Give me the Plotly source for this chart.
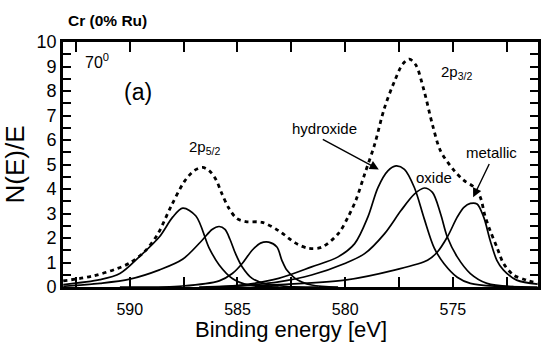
import plotly.graph_objects as go

# ---- data: binding energy [eV] and N(E)/E ----
env_e = [593.09, 591.70, 590.69, 590.00, 589.31, 588.71, 588.08, 587.47, 587.01, 586.62,
         586.32, 586.01, 585.72, 585.39, 585.03, 584.62, 583.86, 583.09, 582.32, 581.71,
         581.10, 580.33, 579.87, 579.50, 579.10, 578.64, 578.18, 577.72, 577.33, 577.02,
         576.72, 576.33, 575.95, 575.57, 574.95, 574.49, 574.03, 573.73, 573.51, 573.27,
         572.96, 572.65, 572.19, 571.58, 571.07]
env_v = [0.25, 0.45, 0.72, 0.98, 1.45, 2.15, 3.30, 4.30, 4.75, 4.88,
         4.75, 4.40, 3.80, 3.20, 2.80, 2.67, 2.64, 2.30, 1.80, 1.58,
         1.62, 2.17, 2.85, 3.55, 4.60, 5.80, 7.30, 8.38, 9.10, 9.30,
         9.06, 7.98, 6.63, 5.55, 4.76, 4.35, 4.08, 3.67, 2.90, 2.30,
         1.63, 0.96, 0.49, 0.28, 0.15]

p12a_e = [593.09, 591.38, 590.46, 589.54, 588.62, 588.01, 587.54, 586.93, 586.32, 585.85,
          585.24, 584.47, 583.09]
p12a_v = [0.10, 0.30, 0.55, 1.25, 2.05, 2.85, 3.22, 2.90, 1.60, 0.90,
          0.35, 0.08, 0.0]

p12b_e = [593.09, 591.38, 590.00, 588.62, 587.55, 586.62, 586.18, 585.85, 585.58, 585.35,
          585.09, 584.78, 584.32, 583.70, 582.63, 581.25]
p12b_v = [0.03, 0.15, 0.32, 0.70, 1.13, 1.93, 2.35, 2.47, 2.35, 1.95,
          1.36, 0.82, 0.35, 0.13, 0.02, 0.0]

p12c_e = [590.46, 587.55, 585.85, 585.24, 584.78, 584.32, 583.93, 583.55, 583.17, 582.94,
          582.71, 582.32, 581.56, 580.33]
p12c_v = [0.0, 0.04, 0.25, 0.55, 0.96, 1.50, 1.79, 1.83, 1.63, 1.09,
          0.69, 0.35, 0.08, 0.0]

hydroxide_e = [586.00, 584.47, 583.09, 581.56, 580.33, 579.56, 578.95, 578.48, 578.02, 577.64,
               577.25, 576.79, 576.33, 575.87, 575.41, 574.80, 574.19, 572.96, 571.07]
hydroxide_v = [0.0, 0.12, 0.35, 0.82, 1.23, 1.77, 2.85, 4.06, 4.74, 4.94,
               4.80, 4.06, 2.78, 1.60, 0.95, 0.40, 0.15, 0.03, 0.0]

oxide_e = [585.50, 583.09, 581.56, 580.02, 579.10, 578.18, 577.41, 576.79, 576.33, 575.95,
           575.57, 575.26, 574.80, 574.19, 573.42, 572.19]
oxide_v = [0.0, 0.21, 0.49, 0.96, 1.36, 2.17, 3.12, 3.79, 4.04, 3.86,
           2.98, 2.04, 1.23, 0.55, 0.15, 0.02]

metallic_e = [586.78, 583.09, 580.02, 577.72, 576.18, 575.72, 575.26, 574.80, 574.49, 574.19,
              573.88, 573.57, 573.27, 572.96, 572.65, 572.04, 571.07]
metallic_v = [0.0, 0.10, 0.28, 0.69, 1.09, 1.43, 2.04, 2.85, 3.25, 3.41,
              3.39, 2.85, 1.90, 1.09, 0.69, 0.28, 0.12]

x_ticks = [590, 585, 580, 575]
y_ticks = list(range(0, 11))

# ---- figure ----
FONT = "Liberation Sans, Arial, Helvetica, sans-serif"
W, H = 544, 343
ML, MR, MT, MB = 63, 3, 42, 56
PW, PH = W - ML - MR, H - MT - MB


def paper(xp, yp):
    return (xp - ML) / PW, (H - MB - yp) / PH


fig = go.Figure()
solid = dict(color="black", width=1.7, shape="spline", smoothing=0.9)
for e, v in [(p12a_e, p12a_v), (p12b_e, p12b_v), (p12c_e, p12c_v),
             (hydroxide_e, hydroxide_v), (oxide_e, oxide_v), (metallic_e, metallic_v)]:
    fig.add_trace(go.Scatter(x=e, y=v, mode="lines", line=solid, hoverinfo="skip"))
fig.add_trace(go.Scatter(x=env_e, y=env_v, mode="lines",
                         line=dict(color="black", width=2.8, dash="4px,4px",
                                   shape="spline", smoothing=0.9),
                         hoverinfo="skip"))

axis_common = dict(showline=True, linecolor="black", linewidth=2.8, mirror="ticks",
                   ticks="inside", tickcolor="black", tickwidth=2, showgrid=False,
                   zeroline=False)

fig.update_xaxes(range=[593.1, 571.05], tickmode="array", tickvals=x_ticks,
                 ticktext=[str(t) for t in x_ticks], ticklen=10, ticklabelstandoff=6,
                 tickfont=dict(size=16, color="black", family=FONT),
                 minor=dict(ticks="inside", dtick=2.5, tick0=590, ticklen=10,
                            tickwidth=2, tickcolor="black", showgrid=False),
                 **axis_common)
fig.update_yaxes(range=[0, 10], tickmode="array", tickvals=y_ticks,
                 ticktext=[str(t) for t in y_ticks], ticklen=8,
                 tickfont=dict(size=18, color="black", family=FONT),
                 minor=dict(ticks="inside", dtick=0.5, tick0=0, ticklen=8,
                            tickwidth=2, tickcolor="black", showgrid=False),
                 title=dict(text="N(E)/E", font=dict(size=26, color="black", family=FONT),
                            standoff=8),
                 **axis_common)

annos = []


def text_anno(txt, xp, yp, size, bold=False, anchor="left"):
    x, y = paper(xp, yp)
    annos.append(dict(text=f"<b>{txt}</b>" if bold else txt, x=x, y=y, xref="paper", yref="paper",
                      xanchor=anchor, yanchor="middle", showarrow=False, borderpad=0,
                      font=dict(size=size, color="black", family=FONT)))


text_anno("Cr (0% Ru)", 67, 20, 15.5, bold=True)
text_anno("Binding energy [eV]", 292, 329, 22, anchor="center")
text_anno("70<sup>0</sup>", 84, 61, 16)
text_anno("(a)", 123, 92, 23)
text_anno("2p<sub>5/2</sub>", 189, 147, 15)
text_anno("2p<sub>3/2</sub>", 442, 73, 15)
text_anno("hydroxide", 292, 128, 15)
text_anno("oxide", 417, 177, 15)
text_anno("metallic", 468, 152, 15)

# arrows (head, tail) in data coordinates
for hx, hy, tx, ty in [(578.44, 4.80, 581.11, 6.06), (574.06, 3.66, 573.28, 5.08)]:
    annos.append(dict(text="", x=hx, y=hy, ax=tx, ay=ty, xref="x", yref="y",
                      axref="x", ayref="y", showarrow=True, arrowhead=2,
                      arrowsize=1.3, arrowwidth=1.4, arrowcolor="black", standoff=0))

fig.update_layout(width=W, height=H, margin=dict(l=ML, r=MR, t=MT, b=MB),
                  plot_bgcolor="white", paper_bgcolor="white", showlegend=False,
                  font=dict(family=FONT, color="black"), annotations=annos)

fig.write_html("out.html")
